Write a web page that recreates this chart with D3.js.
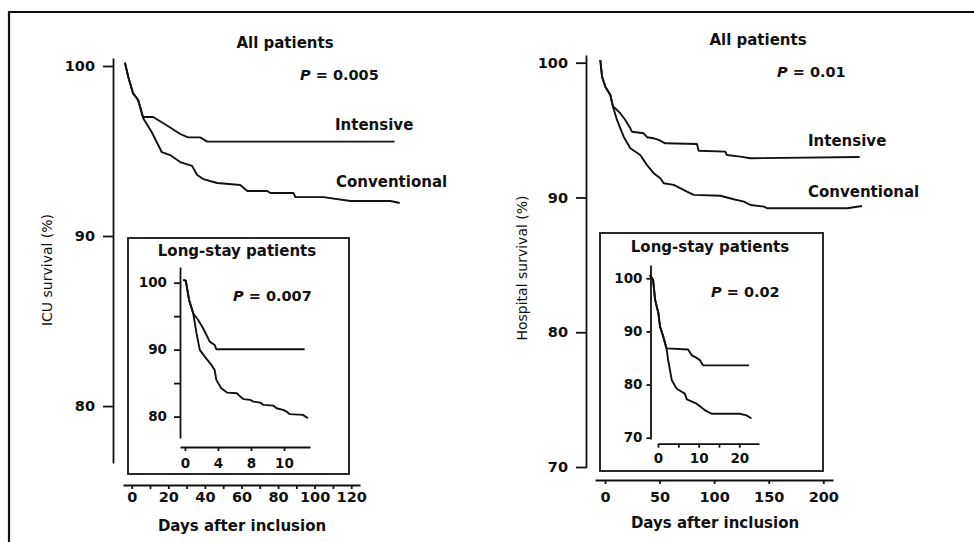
<!DOCTYPE html>
<html>
<head>
<meta charset="utf-8">
<script src="https://cdn.jsdelivr.net/npm/d3@7"></script>
<style>
  body { margin: 0; background: #fff; }
  svg { display: block; font-family: "DejaVu Sans", sans-serif; }
  .axis path, .axis line { stroke: #111; stroke-width: 1.8; }
  .axis text { font-weight: bold; fill: #111; }
</style>
</head>
<body>
<script>
const width = 974;
const height = 542;

// ICU survival, all patients -- [day, survival %]
const icuIntensive = [[-3.7,100.2],[-2,99.4],[0.7,98.4],[3.5,98.0],[6.2,97.0],[11.7,97.0],[19.3,96.5],
  [26.5,96.0],[30.8,95.8],[37.4,95.8],[41.3,95.55],[143.7,95.55]];
const icuConventional = [[-3.7,100.2],[-2,99.4],[0.7,98.4],[3.5,98.0],[6.2,96.94],[10.9,96.12],[16.4,94.94],
  [21.0,94.76],[26.5,94.35],[33.0,94.12],[35.8,93.59],[39.1,93.35],[46.7,93.12],[59.3,93.0],[63.2,92.65],
  [74.1,92.65],[75.8,92.53],[88.4,92.53],[89.5,92.29],[104.8,92.29],[119.6,92.06],[141.5,92.06],[146.5,91.94]];

// ICU survival, long-stay patients
const icuLongIntensive = [[-0.2,100.4],[0.1,100.3],[0.5,97.42],[1.0,95.43],[1.6,94.43],[2.2,93.19],
  [3.0,91.19],[3.6,90.7],[3.8,90.06],[14.5,90.06]];
const icuLongConventional = [[-0.2,100.4],[0.1,100.3],[0.5,97.42],[1.0,95.43],[1.4,92.45],[1.8,89.96],
  [2.4,88.96],[3.2,87.72],[3.6,86.97],[3.8,85.48],[4.4,84.24],[5.1,83.58],[6.3,83.49],[6.7,82.99],
  [7.1,82.6],[7.9,82.49],[8.3,82.24],[9.1,82.09],[9.5,81.75],[10.7,81.64],[11.1,81.25],[11.9,81.0],
  [12.3,80.75],[12.7,80.36],[14.3,80.25],[14.9,79.76]];

// Hospital survival, all patients
const hospIntensive = [[-4.3,100.2],[-2.7,98.96],[0.3,98.22],[4.9,97.6],[7.3,96.74],[9.4,96.62],
  [14.0,96.25],[18.6,95.75],[23.2,95.13],[24.7,94.88],[35.5,94.76],[38.5,94.47],[44.6,94.39],[49.2,94.27],
  [55.2,94.02],[84.3,93.97],[85.8,93.47],[110.2,93.4],[111.7,93.15],[123.9,93.03],[133.1,92.91],[233.3,93.0]];
const hospConventional = [[-4.3,100.2],[-2.7,98.96],[0.3,98.22],[4.9,97.6],[7.3,96.74],[11.0,95.75],
  [17.1,94.51],[23.2,93.65],[32.3,93.15],[38.5,92.4],[44.6,91.8],[50.7,91.42],[53.8,91.05],[63.0,90.93],
  [75.1,90.43],[81.3,90.19],[105.7,90.13],[117.9,89.87],[127.3,89.69],[133.3,89.44],[145.7,89.32],
  [148.4,89.2],[222.0,89.2],[235.5,89.37]];

// Hospital survival, long-stay patients
const hospLongIntensive = [[-2.0,100.6],[-1.2,99.7],[-0.7,95.9],[0.1,93.4],[0.5,90.9],[1.3,89.0],
  [2.1,86.8],[7.4,86.6],[8.3,85.5],[9.1,85.2],[10.3,84.6],[11.1,83.6],[22.4,83.6]];
const hospLongConventional = [[-2.0,100.6],[-1.2,99.7],[-0.7,95.9],[0.1,93.4],[0.5,90.9],[1.3,89.0],
  [2.1,86.8],[2.5,84.6],[3.4,80.8],[4.6,79.2],[6.6,78.3],[7.1,77.2],[9.5,76.4],[11.5,75.2],[13.2,74.5],
  [20.1,74.5],[21.8,74.2],[23.0,73.6]];

const icuDayTicks = [0, 10, 20, 30, 40, 50, 60, 70, 80, 90, 100, 110, 120];
const icuPctTicks = [80, 90, 100];
const icuLongDayTicks = [0, 4, 8, 12];
const icuLongDayLabels = ["0", "4", "8", "10"];
const icuLongPctTicks = [80, 85, 90, 95, 100];
const hospDayTicks = [0, 50, 100, 150, 200];
const hospPctTicks = [70, 80, 90, 100];
const hospLongDayTicks = [0, 5, 10, 15, 20];
const hospLongPctTicks = [70, 80, 90, 100];

const svg = d3.select("body")
  .append("svg")
  .attr("width", width)
  .attr("height", height);

// scanned page frame (top and left edges only)
svg.append("path")
  .attr("d", "M9,542V12H974")
  .attr("fill", "none")
  .attr("stroke", "#111")
  .attr("stroke-width", 2.2);

function curve(g, data, x, y) {
  g.append("path")
    .datum(data)
    .attr("fill", "none")
    .attr("stroke", "#111")
    .attr("stroke-width", 1.9)
    .attr("stroke-linejoin", "round")
    .attr("d", d3.line().x(d => x(d[0])).y(d => y(d[1])));
}

function axis(gen, tx, ty, size) {
  svg.append("g")
    .attr("class", "axis")
    .attr("transform", `translate(${tx},${ty})`)
    .call(gen)
    .attr("font-family", "DejaVu Sans")
    .attr("font-size", size);
}

function text(x, y, str, opts = {}) {
  return svg.append("text")
    .attr("x", x)
    .attr("y", y)
    .attr("text-anchor", opts.anchor || "start")
    .attr("font-size", opts.size || 15)
    .attr("font-weight", opts.weight || "bold")
    .attr("fill", "#111")
    .text(str);
}

function pText(x, y, value, size) {
  const t = svg.append("text")
    .attr("x", x)
    .attr("y", y)
    .attr("font-size", size)
    .attr("font-weight", "bold")
    .attr("fill", "#111");
  t.append("tspan").attr("font-style", "italic").text("P");
  t.append("tspan").text(" = " + value);
}

function yLabel(x, y, str) {
  svg.append("text")
    .attr("transform", `translate(${x},${y}) rotate(-90)`)
    .attr("text-anchor", "middle")
    .attr("dominant-baseline", "central")
    .attr("font-size", 14)
    .attr("fill", "#111")
    .text(str);
}

// ---------- left: ICU survival ----------
const icuX = d3.scaleLinear().domain([-4.77, 124.8]).range([123, 360]);
const icuY = d3.scaleLinear().domain([76.65, 100.47]).range([463, 58]);

axis(d3.axisLeft(icuY).tickValues(icuPctTicks).tickSize(10).tickPadding(8).tickSizeOuter(0), 113, 0, 14.5);
axis(d3.axisBottom(icuX).tickValues(icuDayTicks).tickFormat(d => d % 20 ? "" : d)
  .tickSize(4).tickPadding(3).tickSizeOuter(0), 0, 485, 14.5);

const icuG = svg.append("g");
curve(icuG, icuIntensive, icuX, icuY);
curve(icuG, icuConventional, icuX, icuY);

text(285, 48, "All patients", { anchor: "middle" });
pText(300, 80, "0.005", 14.5);
text(335, 130, "Intensive");
text(336, 187, "Conventional");
yLabel(47, 270, "ICU survival (%)");
text(242, 531, "Days after inclusion", { anchor: "middle" });

// inset: long-stay ICU
svg.append("rect")
  .attr("x", 128).attr("y", 238).attr("width", 221).attr("height", 236)
  .attr("fill", "#fff").attr("stroke", "#111").attr("stroke-width", 1.8);

const icuLongX = d3.scaleLinear().domain([-0.6, 15.15]).range([180, 310]);
const icuLongY = d3.scaleLinear().domain([76.8, 102.34]).range([438, 267]);

axis(d3.axisLeft(icuLongY).tickValues(icuLongPctTicks).tickFormat(d => d % 10 ? "" : d)
  .tickSize(6).tickPadding(7).tickSizeOuter(0), 180, 0, 13.5);
axis(d3.axisBottom(icuLongX).tickValues(icuLongDayTicks).tickFormat((d, i) => icuLongDayLabels[i])
  .tickSize(4).tickPadding(7).tickSizeOuter(0), 0, 447, 13.5);

const icuLongG = svg.append("g");
curve(icuLongG, icuLongIntensive, icuLongX, icuLongY);
curve(icuLongG, icuLongConventional, icuLongX, icuLongY);

text(237, 256, "Long-stay patients", { anchor: "middle" });
pText(233, 301, "0.007", 14.5);

// ---------- right: hospital survival ----------
const hospX = d3.scaleLinear().domain([-9.16, 208.9]).range([595, 833]);
const hospY = d3.scaleLinear().domain([69.95, 100.57]).range([467.7, 55]);

axis(d3.axisLeft(hospY).tickValues(hospPctTicks).tickSize(10).tickPadding(8).tickSizeOuter(0), 586, 0, 14.5);
axis(d3.axisBottom(hospX).tickValues(hospDayTicks).tickSize(4).tickPadding(8).tickSizeOuter(0), 0, 480, 14.5);

const hospG = svg.append("g");
curve(hospG, hospIntensive, hospX, hospY);
curve(hospG, hospConventional, hospX, hospY);

text(758, 45, "All patients", { anchor: "middle" });
pText(777, 77, "0.01", 14.5);
text(808, 146, "Intensive");
text(808, 197, "Conventional");
yLabel(522, 268, "Hospital survival (%)");
text(715, 528, "Days after inclusion", { anchor: "middle" });

// inset: long-stay hospital
svg.append("rect")
  .attr("x", 600).attr("y", 233).attr("width", 223).attr("height", 238)
  .attr("fill", "#fff").attr("stroke", "#111").attr("stroke-width", 1.8);

const hospLongX = d3.scaleLinear().domain([0, 24.85]).range([658, 759]);
const hospLongY = d3.scaleLinear().domain([69.75, 102.5]).range([439, 265]);

axis(d3.axisLeft(hospLongY).tickValues(hospLongPctTicks).tickSize(4).tickPadding(4).tickSizeOuter(0), 650.5, 0, 13.5);
axis(d3.axisBottom(hospLongX).tickValues(hospLongDayTicks).tickFormat(d => d % 10 ? "" : d)
  .tickSize(4).tickPadding(6).tickSizeOuter(0), 0, 443.7, 13.5);

const hospLongG = svg.append("g");
curve(hospLongG, hospLongIntensive, hospLongX, hospLongY);
curve(hospLongG, hospLongConventional, hospLongX, hospLongY);

text(710, 252, "Long-stay patients", { anchor: "middle" });
pText(711, 297, "0.02", 14.5);
</script>
</body>
</html>
